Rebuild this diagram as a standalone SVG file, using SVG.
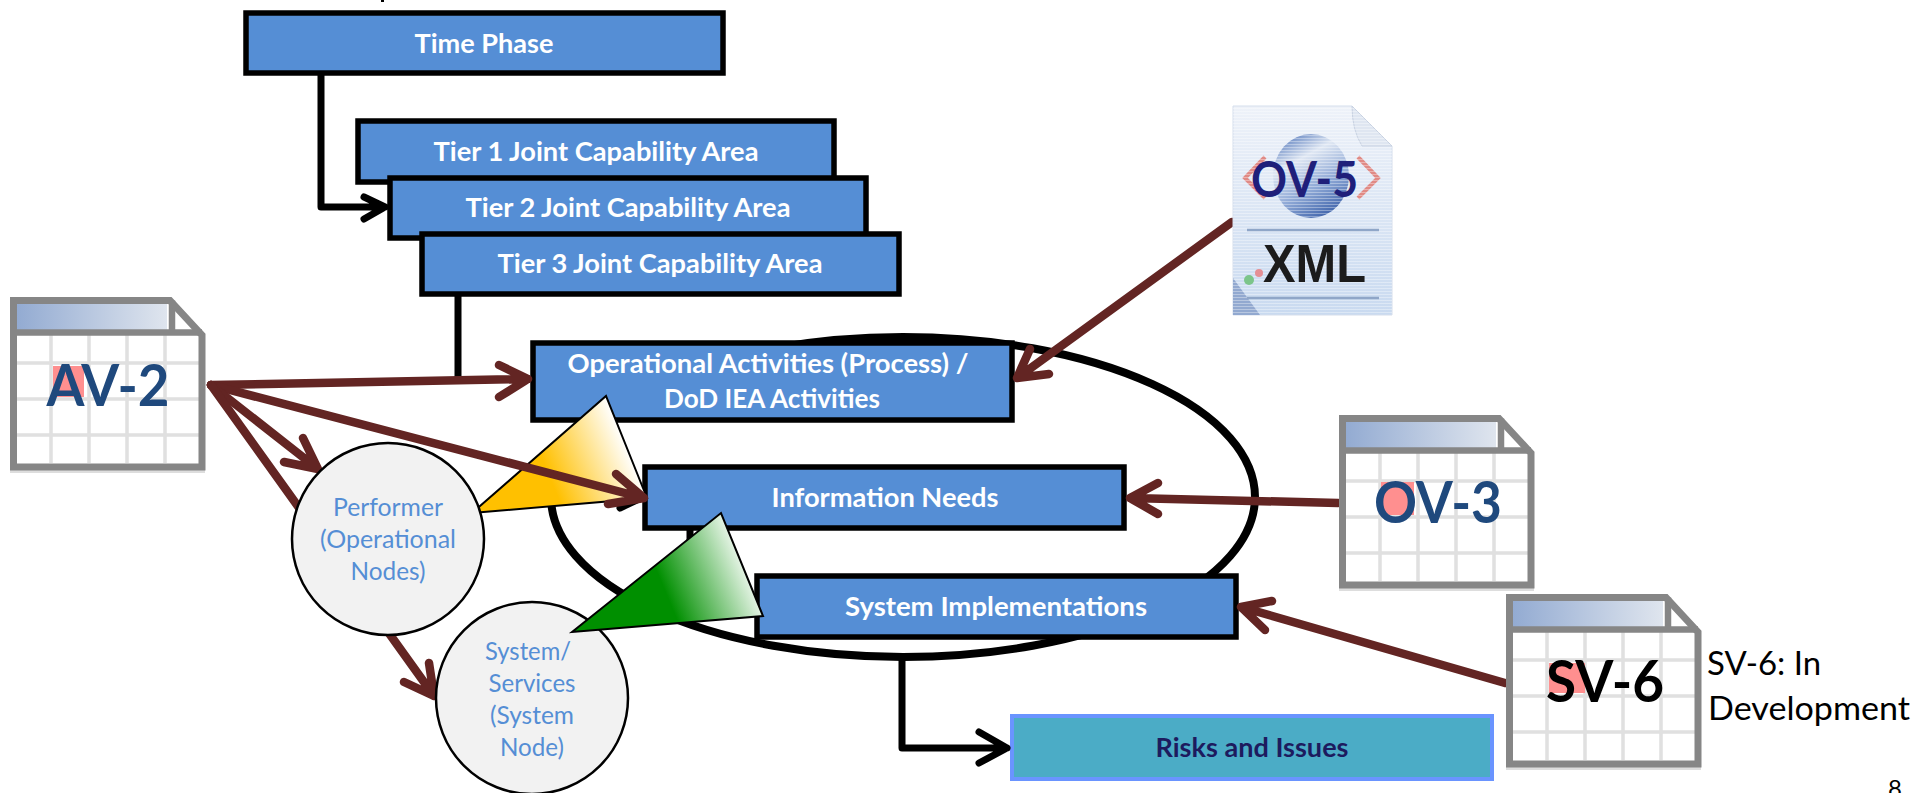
<svg xmlns="http://www.w3.org/2000/svg" xmlns:xlink="http://www.w3.org/1999/xlink" width="1929" height="793" viewBox="0 0 1929 793">
<style>
text{font-family:"Lato","Open Sans","Liberation Sans",sans-serif;text-anchor:middle}
.box{fill:#558ed5;stroke:#000;stroke-width:5.5}
.bt{font-weight:700;font-size:27px;fill:#fff}
.cir{fill:#f2f2f2;stroke:#000;stroke-width:2.5}
.ct{font-size:25px;fill:#558ed5}
.k{fill:none;stroke:#000;stroke-width:7;stroke-linecap:round;stroke-linejoin:round}
.b{fill:none;stroke:#632523;stroke-width:8.5;stroke-linecap:round;stroke-linejoin:round}
.big{font-weight:700;font-size:58px;fill:#1f497d}
.note{font-size:33px;fill:#000;text-anchor:start}
</style>
<defs>
<linearGradient id="hdr" x1="0" x2="1" y1="0" y2="0"><stop offset="0" stop-color="#93abd2"/><stop offset="1" stop-color="#dfe5ee"/></linearGradient>
<linearGradient id="xmlbg" x1="0" x2="0" y1="0" y2="1"><stop offset="0" stop-color="#eef2f9"/><stop offset="1" stop-color="#c9daf0"/></linearGradient>
<linearGradient id="yel" gradientUnits="userSpaceOnUse" x1="555" y1="490" x2="632" y2="458"><stop offset="0" stop-color="#ffc000"/><stop offset="1" stop-color="#fff"/></linearGradient>
<linearGradient id="grn" gradientUnits="userSpaceOnUse" x1="668" y1="598" x2="752" y2="563"><stop offset="0" stop-color="#008f00"/><stop offset="1" stop-color="#fff"/></linearGradient>
<linearGradient id="globe" x1="0.2" y1="0" x2="0.7" y2="1"><stop offset="0" stop-color="#5c7fbf"/><stop offset="0.3" stop-color="#dfe7f3"/><stop offset="0.65" stop-color="#8fa9d6"/><stop offset="1" stop-color="#3d62aa"/></linearGradient>
<pattern id="lines" width="4" height="3" patternUnits="userSpaceOnUse"><rect width="4" height="1" fill="#fff" fill-opacity="0.35"/></pattern>
<g id="sheet">
<rect x="0" y="173" width="195" height="3" fill="#ddd"/>
<path d="M3.5 3.5H160L192 38V170H3.5Z" fill="#fff"/>
<g stroke="#e0e0e0" stroke-width="3.5" fill="none">
<path d="M41 38V166M79 38V166M117 38V166M155 38V166"/>
<path d="M7 66H189M7 102H189M7 138H189"/>
</g>
<rect x="7" y="7" width="150" height="26" fill="url(#hdr)"/>
<path d="M3.5 35.5H192M162 3.5V35.5" fill="none" stroke="#868686" stroke-width="6.5"/>
<path d="M3.5 3.5H160L192 38V170H3.5Z" fill="none" stroke="#868686" stroke-width="7"/>
</g>
</defs>

<rect width="1929" height="793" fill="#fff"/>
<rect x="381" y="0" width="3" height="2" fill="#000"/>

<g id="scope-ellipse"><ellipse cx="903" cy="497" rx="352" ry="160" fill="none" stroke="#000" stroke-width="8"/></g>

<g id="time-phase"><rect class="box" x="246" y="13" width="477" height="60"/><text class="bt" x="484" y="53" textLength="139" lengthAdjust="spacingAndGlyphs">Time Phase</text></g>
<g id="tier1"><rect class="box" x="358" y="121" width="476" height="61"/><text class="bt" x="596" y="161" textLength="325" lengthAdjust="spacingAndGlyphs">Tier 1 Joint Capability Area</text></g>
<g id="tier2"><rect class="box" x="390" y="178" width="476" height="60"/><text class="bt" x="628" y="217" textLength="325" lengthAdjust="spacingAndGlyphs">Tier 2 Joint Capability Area</text></g>
<g id="tier3"><rect class="box" x="422" y="234" width="477" height="60"/><text class="bt" x="660" y="273" textLength="325" lengthAdjust="spacingAndGlyphs">Tier 3 Joint Capability Area</text></g>
<g id="op-activities"><rect class="box" x="533" y="343" width="479" height="77"/><text class="bt" x="768" y="373" textLength="401" lengthAdjust="spacingAndGlyphs">Operational Activities (Process) /</text><text class="bt" x="772" y="408" textLength="216" lengthAdjust="spacingAndGlyphs">DoD IEA Activities</text></g>
<g id="info-needs"><rect class="box" x="645" y="467" width="479" height="61"/><text class="bt" x="885" y="507" textLength="227" lengthAdjust="spacingAndGlyphs">Information Needs</text></g>
<g id="sys-impl"><rect class="box" x="757" y="576" width="479" height="61"/><text class="bt" x="996" y="616" textLength="302" lengthAdjust="spacingAndGlyphs">System Implementations</text></g>
<g id="risks"><rect x="1012" y="716" width="480" height="63" fill="#4bacc6" stroke="#6a94ff" stroke-width="4"/><text x="1252" y="757" font-weight="700" font-size="26" fill="#1d1b5e" textLength="193" lengthAdjust="spacingAndGlyphs">Risks and Issues</text></g>

<g id="highlight-yellow"><polygon points="472,513 606,396 647,498" fill="url(#yel)" stroke="#000" stroke-width="2"/></g>

<g id="connectors">
<path class="k" d="M321 75V207H385M364 197L385 207L364 219"/>
<path class="k" d="M458 296V378"/>
<path class="k" d="M620 508L641 498"/>
<path class="k" d="M690 530V552"/>
<path class="k" d="M902 659V748H1007M979 732L1007 748L979 763"/>
<path class="b" d="M211 385L528 379M499 365L528 379L499 397"/>
<path class="b" d="M211 385L644 498M616 474L644 498L608 504"/>
<path class="b" d="M211 385L318 469M303 438L318 469L284 462"/>
<path class="b" d="M211 385L434 696M429 663L434 696L404 682"/>
<path class="b" d="M1232 222L1017 378M1030 349L1017 378L1049 374"/>
<path class="b" d="M1338 503L1130 498M1158 483L1130 498L1158 514"/>
<path class="b" d="M1505 683L1241 607M1272 601L1241 607L1265 630"/>
</g>

<g id="performer"><circle class="cir" cx="388" cy="539" r="96"/><text class="ct" x="388" y="516" textLength="110" lengthAdjust="spacingAndGlyphs">Performer</text><text class="ct" x="388" y="548" textLength="136" lengthAdjust="spacingAndGlyphs">(Operational</text><text class="ct" x="388" y="580" textLength="75" lengthAdjust="spacingAndGlyphs">Nodes)</text></g>
<g id="system-node"><circle class="cir" cx="532" cy="698" r="96"/><text class="ct" x="528" y="660" textLength="86" lengthAdjust="spacingAndGlyphs">System/</text><text class="ct" x="532" y="692" textLength="87" lengthAdjust="spacingAndGlyphs">Services</text><text class="ct" x="532" y="724" textLength="84" lengthAdjust="spacingAndGlyphs">(System</text><text class="ct" x="532" y="756" textLength="64" lengthAdjust="spacingAndGlyphs">Node)</text></g>

<g id="highlight-green"><polygon points="572,632 721,513 763,616" fill="url(#grn)" stroke="#000" stroke-width="2"/></g>

<g id="av-2"><use xlink:href="#sheet" href="#sheet" x="10" y="297"/><rect x="53" y="366" width="31" height="31" fill="#ff8f8f"/><text class="big" x="108" y="406" textLength="123" lengthAdjust="spacingAndGlyphs">AV-2</text></g>
<g id="ov-3"><use xlink:href="#sheet" href="#sheet" x="1339" y="415"/><rect x="1381" y="482" width="33" height="33" fill="#ff8f8f"/><text class="big" x="1438" y="523" textLength="128" lengthAdjust="spacingAndGlyphs">OV-3</text></g>
<g id="sv-6"><use xlink:href="#sheet" href="#sheet" x="1506" y="594"/><rect x="1549" y="663" width="36" height="30" fill="#ff8f8f"/><text class="big" x="1605" y="702" style="fill:#000" textLength="118" lengthAdjust="spacingAndGlyphs">SV-6</text></g>
<g id="sv-6-note"><text class="note" x="1707" y="675" textLength="114" lengthAdjust="spacingAndGlyphs">SV-6: In</text><text class="note" x="1708" y="720" textLength="202" lengthAdjust="spacingAndGlyphs">Development</text></g>

<g id="ov-5">
<path d="M1233 106H1352L1392 146V315H1233Z" fill="url(#xmlbg)" stroke="#d5deec" stroke-width="1"/>
<path d="M1352 106L1392 146H1362Q1352 130 1352 106Z" fill="#dfe6f1" stroke="#c8d2e2"/>
<polygon points="1233,278 1260,315 1233,315" fill="#92a9d0"/>
<ellipse cx="1311" cy="176" rx="38" ry="42" fill="url(#globe)"/>
<path d="M1265 157L1245 178L1265 198M1358 157L1378 178L1358 198" fill="none" stroke="#e08a85" stroke-width="4"/>
<path d="M1233 106H1352L1392 146V315H1233Z" fill="url(#lines)"/>
<path d="M1247 230H1379M1247 298H1379" stroke="#8fa6c8" stroke-width="2.5"/>
<circle cx="1249" cy="280" r="5" fill="#7cc58a"/><circle cx="1259" cy="273" r="4" fill="#e58f94"/>
<text x="1314.5" y="282" font-weight="700" font-size="53" fill="#1c1c1c" textLength="103" lengthAdjust="spacingAndGlyphs" style="font-family:'Liberation Sans',sans-serif">XML</text>
<text x="1304.5" y="197" font-weight="700" font-size="49" fill="#1f1f7a" textLength="107" lengthAdjust="spacingAndGlyphs">OV-5</text>
</g>

<g id="page-number"><text x="1895" y="797" font-size="24" fill="#000">8</text></g>
</svg>
